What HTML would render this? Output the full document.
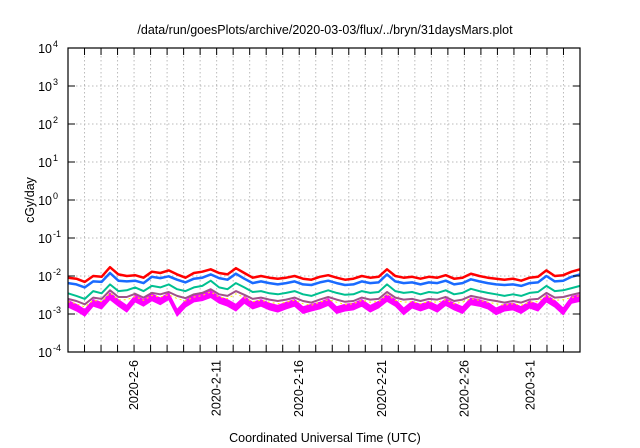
<!DOCTYPE html>
<html><head><meta charset="utf-8"><style>
body{margin:0;background:#fff}
svg{display:block;font-family:"Liberation Sans",sans-serif}
</style></head><body>
<svg id="chart" width="640" height="448" viewBox="0 0 640 448">
<rect width="640" height="448" fill="#fff"/>
<text x="325" y="34" font-size="12.5" text-anchor="middle">/data/run/goesPlots/archive/2020-03-03/flux/../bryn/31daysMars.plot</text>
<text transform="translate(34,200) rotate(-90)" font-size="12.5" text-anchor="middle">cGy/day</text>
<text x="325" y="442" font-size="12.5" text-anchor="middle">Coordinated Universal Time (UTC)</text>
<g id="grid"></g><g id="series"></g><g id="axes"></g>
</svg>
<script>
const yExponents=[4,3,2,1,0,-1,-2,-3,-4];
const xLabels=["2020-2-6","2020-2-11","2020-2-16","2020-2-21","2020-2-26","2020-3-1"];
const xLabelDays=[4,9,14,19,24,28];
const red=[0.009,0.0085,0.007,0.01,0.0095,0.017,0.011,0.01,0.0105,0.009,0.013,0.012,0.014,0.011,0.009,0.012,0.013,0.015,0.012,0.011,0.016,0.012,0.009,0.01,0.009,0.0085,0.009,0.01,0.0085,0.008,0.0095,0.0105,0.009,0.008,0.0085,0.01,0.009,0.0095,0.015,0.01,0.009,0.0095,0.0085,0.0095,0.009,0.0105,0.0085,0.009,0.0115,0.01,0.009,0.0085,0.008,0.0085,0.0075,0.009,0.0095,0.014,0.01,0.0105,0.013,0.015];
const blue=[0.0065,0.006,0.005,0.0072,0.007,0.012,0.0075,0.0072,0.0075,0.0065,0.0095,0.0088,0.0098,0.008,0.0068,0.0085,0.009,0.011,0.0088,0.008,0.0115,0.0085,0.0065,0.0072,0.0065,0.006,0.0065,0.0072,0.006,0.0058,0.0068,0.0075,0.0065,0.0058,0.006,0.0072,0.0065,0.0068,0.011,0.0072,0.0065,0.0068,0.006,0.0068,0.0065,0.0075,0.006,0.0065,0.0082,0.0072,0.0065,0.006,0.0058,0.006,0.0055,0.0065,0.0068,0.01,0.0072,0.0075,0.0095,0.011];
const green=[0.0035,0.003,0.0025,0.004,0.0035,0.006,0.004,0.0042,0.005,0.004,0.0055,0.005,0.006,0.0045,0.004,0.005,0.0055,0.0075,0.005,0.0045,0.0065,0.005,0.0038,0.004,0.0035,0.0033,0.0036,0.004,0.0033,0.003,0.0036,0.0042,0.0036,0.0032,0.0033,0.004,0.0036,0.0038,0.006,0.004,0.0036,0.0038,0.0033,0.0038,0.0036,0.0042,0.0033,0.0036,0.0046,0.004,0.0036,0.0033,0.003,0.0033,0.003,0.0036,0.0038,0.0055,0.004,0.0042,0.0048,0.0055];
const purple=[0.0025,0.0022,0.0018,0.0027,0.0025,0.0042,0.0028,0.0028,0.0034,0.0027,0.0036,0.0033,0.0038,0.003,0.0026,0.0033,0.0036,0.0045,0.0033,0.003,0.004,0.0032,0.0025,0.0027,0.0024,0.0022,0.0024,0.0027,0.0022,0.002,0.0024,0.0028,0.0024,0.0021,0.0022,0.0027,0.0024,0.0025,0.0038,0.0027,0.0024,0.0025,0.0022,0.0025,0.0024,0.0028,0.0022,0.0024,0.003,0.0027,0.0024,0.0022,0.002,0.0022,0.002,0.0024,0.0025,0.0036,0.0027,0.0028,0.0032,0.0036];
const magenta=[0.0019,0.0015,0.0011,0.002,0.0017,0.003,0.002,0.0014,0.0026,0.002,0.0028,0.0022,0.003,0.0011,0.0019,0.0026,0.0028,0.0034,0.0024,0.002,0.0015,0.0024,0.0017,0.002,0.0016,0.0014,0.0017,0.002,0.0013,0.0015,0.0017,0.0021,0.0013,0.0015,0.0016,0.002,0.0014,0.0018,0.0027,0.002,0.0012,0.0018,0.0015,0.0018,0.0014,0.0021,0.0016,0.0013,0.0022,0.002,0.0017,0.0012,0.0015,0.0016,0.0013,0.0018,0.0015,0.0026,0.0019,0.0012,0.0024,0.0027];

const L=68,R=580,T=48,B=352,DAYS=31;
const NS="http://www.w3.org/2000/svg";
function xDay(d){return L+(R-L)*d/DAYS;}
function yLog(v){return B-(Math.log10(v)+4)/8*(B-T);}
function xIdx(i,n){return xDay(i*DAYS/(n-1));}
function mk(tag,attrs,parent){const e=document.createElementNS(NS,tag);for(const k in attrs)e.setAttribute(k,attrs[k]);parent.appendChild(e);return e;}
const grid=document.getElementById('grid'),ser=document.getElementById('series'),axes=document.getElementById('axes');
for(let d=1;d<DAYS;d++){
  const g=mk('line',{x1:xDay(d),x2:xDay(d),y1:T,y2:B,stroke:'#bbb','stroke-dasharray':'1.5,2.5','stroke-width':1},grid);
  
  
  const t1=mk('line',{x1:xDay(d),x2:xDay(d),y1:B,y2:B-7,stroke:'#000','stroke-width':1},axes);
  
  
  const t2=mk('line',{x1:xDay(d),x2:xDay(d),y1:T,y2:T+7,stroke:'#000','stroke-width':1},axes);
  
  
}
yExponents.forEach(e=>{
  const y=yLog(Math.pow(10,e));
  if(e<4&&e>-4){const g=mk('line',{x1:L,x2:R,y1:y,y2:y,stroke:'#bbb','stroke-dasharray':'1.5,2.5'},grid);
  
  }
  mk('line',{x1:L,x2:L+7,y1:y,y2:y,stroke:'#000'},axes);
  mk('line',{x1:R,x2:R-7,y1:y,y2:y,stroke:'#000'},axes);
  const t=mk('text',{x:52,y:y+5,'font-size':12.5,'text-anchor':'end'},axes);
  
  
  t.textContent='10';
  const s=mk('text',{x:53,y:y-1,'font-size':9},axes);
  s.textContent=String(e);
});
xLabels.forEach((lab,i)=>{
  const x=xDay(xLabelDays[i]);
  const t=mk('text',{transform:`translate(${x+4},${B+8}) rotate(-90)`,'font-size':12.5,'text-anchor':'end'},axes);
  
  
  t.textContent=lab;
});
function path(arr,f){return arr.map((v,i)=>(i?'L':'M')+xIdx(i,arr.length).toFixed(1)+','+yLog(f?f(v):v).toFixed(1)).join('');}
const band=magenta.map((v,i)=>(i?'L':'M')+xIdx(i,magenta.length).toFixed(1)+','+yLog(v*1.2).toFixed(1)).join('')+
 magenta.slice().reverse().map((v,j)=>{const i=magenta.length-1-j;return 'L'+xIdx(i,magenta.length).toFixed(1)+','+yLog(v*0.8).toFixed(1);}).join('')+'Z';
const mb=mk('path',{d:band,fill:'#ff00ff',stroke:'#ff00ff','stroke-width':1},ser);


const series=[[purple,'#a0508a',2,'series-purple'],[green,'#00c090',2,'series-green'],[blue,'#1a6aff',2.5,'series-blue'],[red,'#ff0000',2.5,'series-red']];
series.forEach(([a,c,w,n])=>{
  const p=mk('path',{d:path(a),fill:'none',stroke:c,'stroke-width':w,'stroke-linejoin':'round'},ser);
  
  
});
const yl=mk('path',{d:path(purple,v=>v*0.85),fill:'none',stroke:'#ffee00','stroke-width':1,'stroke-dasharray':'2,3'},ser);


const fr=mk('rect',{x:L,y:T,width:R-L,height:B-T,fill:'none',stroke:'#000','stroke-width':1.2},axes);


</script>
</body></html>
